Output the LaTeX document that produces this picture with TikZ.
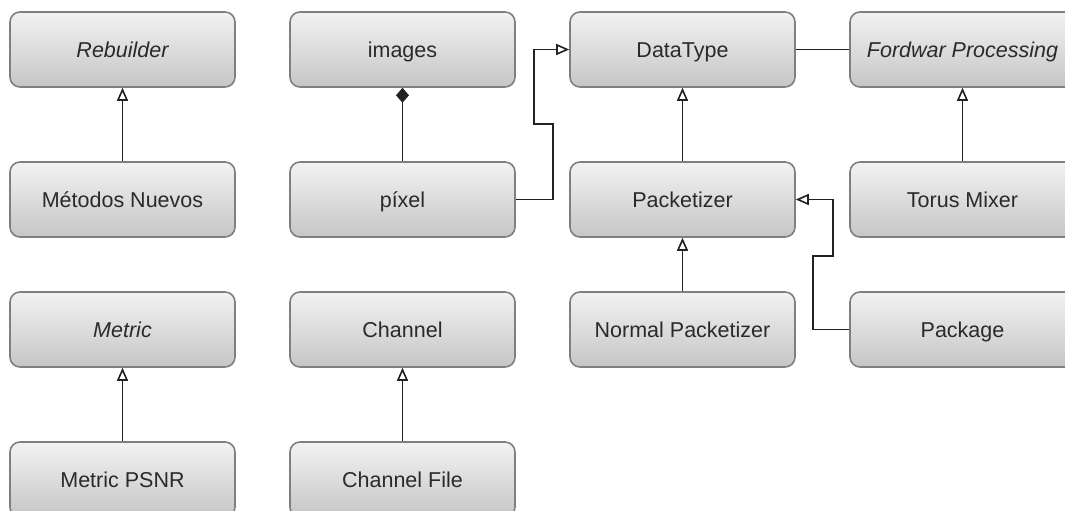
\documentclass[tikz,border=0pt]{standalone}
\usepackage{fontspec}
\setmainfont{Liberation Sans}
\usetikzlibrary{arrows.meta}
\definecolor{boxtop}{HTML}{F2F2F2}
\definecolor{boxbot}{HTML}{C6C6C6}
\definecolor{boxline}{HTML}{7F7F7F}
\definecolor{txt}{HTML}{2A2A2A}
\definecolor{conn}{HTML}{222222}
\tikzset{
  cls/.style={draw=boxline, line width=1.6pt, rounded corners=10pt,
    top color=boxtop, bottom color=boxbot, minimum width=225pt,
    minimum height=75pt, inner sep=0pt, text=txt,
    text depth=0pt, text height=15pt,
    font=\fontsize{21.5pt}{26pt}\selectfont},
  link/.style={draw=conn, line width=1.9pt},
  gen/.style={link, -{Triangle[open, width=11pt, length=13pt, line width=1.6pt]}},
  comp/.style={link, {Diamond[width=13pt, length=15pt]}-}
}
\begin{document}
\begin{tikzpicture}[x=1pt,y=-1pt]
\useasboundingbox (0,0) rectangle (1065,511);
\begin{scope}
\clip (0,0) rectangle (1065,511);
\node[cls] (reb) at (122.5,49.5) {\itshape Rebuilder};
\node[cls] (met) at (122.5,199.5) {Métodos Nuevos};
\node[cls] (metric) at (122.5,329.5) {\itshape Metric};
\node[cls] (psnr) at (122.5,479.5) {Metric PSNR};
\node[cls] (img) at (402.5,49.5) {images};
\node[cls] (pix) at (402.5,199.5) {píxel};
\node[cls] (chan) at (402.5,329.5) {Channel};
\node[cls] (cfile) at (402.5,479.5) {Channel File};
\node[cls] (dt) at (682.5,49.5) {DataType};
\node[cls] (pk) at (682.5,199.5) {Packetizer};
\node[cls] (npk) at (682.5,329.5) {Normal Packetizer};
\node[cls] (fwd) at (962.5,49.5) {\itshape Fordwar Processing};
\node[cls] (torus) at (962.5,199.5) {Torus Mixer};
\node[cls] (pkg) at (962.5,329.5) {Package};

\coordinate (p1) at (552.7,124);
\coordinate (p2) at (534,49.5);
\coordinate (q1) at (813,256);
\coordinate (q2) at (833,199.5);

\draw[gen] (met.north) -- (reb.south);
\draw[gen] (psnr.north) -- (metric.south);
\draw[gen] (cfile.north) -- (chan.south);
\draw[comp] (img.south) -- (pix.north);
\draw[gen] (pix.east) -| (p1) -| (p2) -- (dt.west);
\draw[gen] (pk.north) -- (dt.south);
\draw[link] (dt.east) -- (fwd.west);
\draw[gen] (torus.north) -- (fwd.south);
\draw[gen] (npk.north) -- (pk.south);
\draw[gen] (pkg.west) -| (q1) -| (q2) -- (pk.east);
\end{scope}
\end{tikzpicture}
\end{document}
